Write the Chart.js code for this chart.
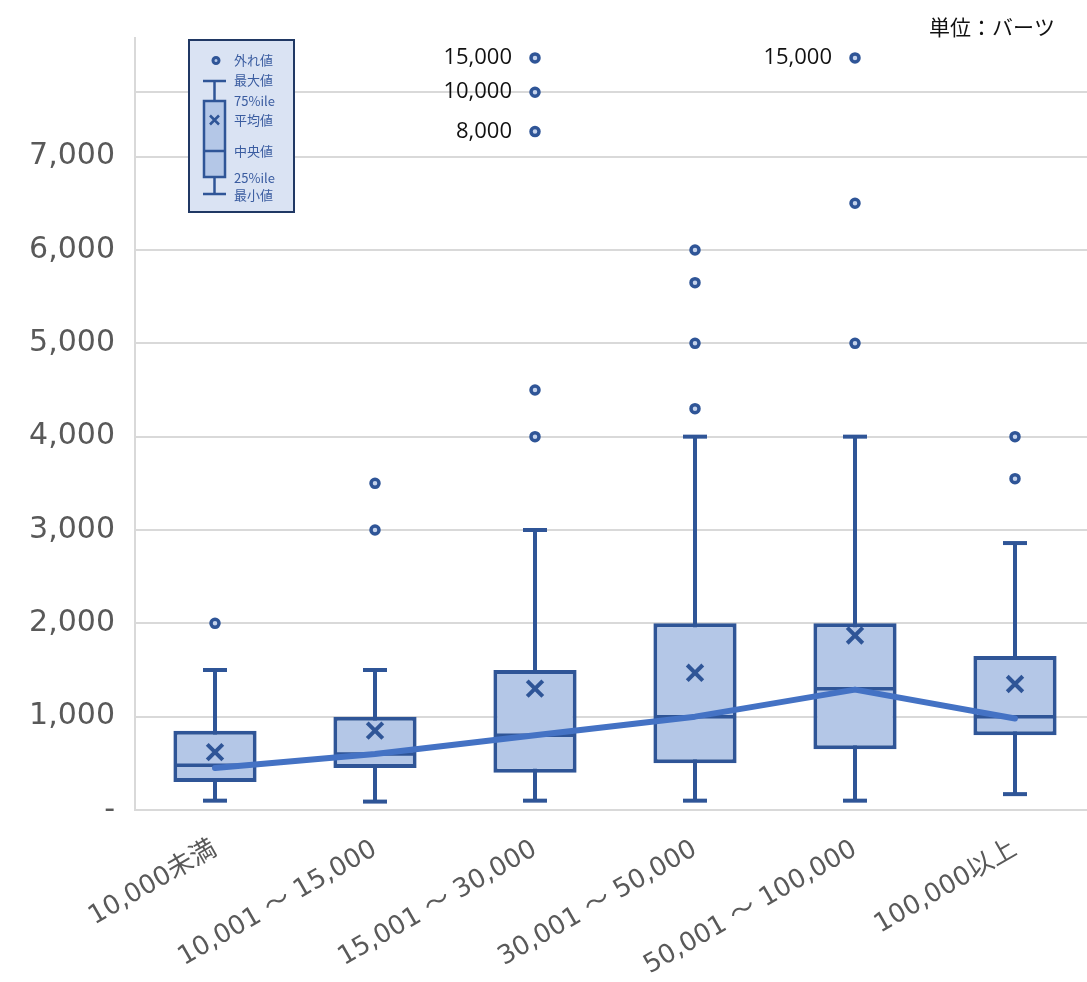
<!DOCTYPE html>
<html lang="ja">
<head>
<meta charset="utf-8">
<title>価格帯別の分布</title>
<script src="https://cdn.jsdelivr.net/npm/chart.js@4.4.1/dist/chart.umd.min.js"></script>
<style>
  html, body { margin: 0; padding: 0; background: #ffffff; overflow: hidden; }
  #wrap { position: relative; width: 1095px; height: 982px; }
</style>
</head>
<body>
<div id="wrap"><canvas id="chart"></canvas></div>
<script>
// Price bands (categories on the x axis)
const categories = ['10,000未満', '10,001 ～ 15,000', '15,001 ～ 30,000', '30,001 ～ 50,000', '50,001 ～ 100,000', '100,000以上'];

// Five-number summary and mean per band
const minValues    = [100,  90,  100,  100,  100,  170];
const q1Values     = [300,  450, 400,  500,  650,  800];
const medianValues = [480,  600, 800,  1000, 1300, 1000];
const q3Values     = [850,  1000, 1500, 2000, 2000, 1650];
const maxValues    = [1500, 1500, 3000, 4000, 4000, 2860];
const meanValues   = [620,  850, 1300, 1470, 1870, 1350];

// Outliers per band
const outlierValues = [
  [2000],
  [3000, 3500],
  [4000, 4500, 8000, 10000, 15000],
  [4300, 5000, 5650, 6000],
  [5000, 6500, 15000],
  [3550, 4000]
];

// Trend line across the bands
const trendValues = [450, 600, 800, 1000, 1290, 980];

// Y axis tick values (the top one marks the compressed region)
const yTickValues = [0, 1000, 2000, 3000, 4000, 5000, 6000, 7000, 10000];

// Outliers at or above this value carry a value label
const labelThreshold = 8000;

// Broken y axis: linear up to 7,000, compressed above it
const axisBreakReal  = [7000, 8000, 10000, 15000];
const axisBreakShown = [7000, 7268, 7690, 8058];

function compressValue(v) {
  if (v <= axisBreakReal[0]) return v;
  for (let i = 1; i < axisBreakReal.length; i++) {
    if (v <= axisBreakReal[i]) {
      const t = (v - axisBreakReal[i - 1]) / (axisBreakReal[i] - axisBreakReal[i - 1]);
      return axisBreakShown[i - 1] + t * (axisBreakShown[i] - axisBreakShown[i - 1]);
    }
  }
  const n = axisBreakReal.length - 1;
  const slope = (axisBreakShown[n] - axisBreakShown[n - 1]) / (axisBreakReal[n] - axisBreakReal[n - 1]);
  return axisBreakShown[n] + (v - axisBreakReal[n]) * slope;
}
function expandValue(d) {
  if (d <= axisBreakShown[0]) return d;
  for (let i = 1; i < axisBreakShown.length; i++) {
    if (d <= axisBreakShown[i]) {
      const t = (d - axisBreakShown[i - 1]) / (axisBreakShown[i] - axisBreakShown[i - 1]);
      return axisBreakReal[i - 1] + t * (axisBreakReal[i] - axisBreakReal[i - 1]);
    }
  }
  const n = axisBreakShown.length - 1;
  const slope = (axisBreakReal[n] - axisBreakReal[n - 1]) / (axisBreakShown[n] - axisBreakShown[n - 1]);
  return axisBreakReal[n] + (d - axisBreakShown[n]) * slope;
}

class BrokenLinearScale extends Chart.LinearScale {
  getPixelForValue(value) {
    if (value === null || value === undefined) return NaN;
    return super.getPixelForValue(compressValue(value));
  }
  getValueForPixel(pixel) {
    return expandValue(super.getValueForPixel(pixel));
  }
}
BrokenLinearScale.id = 'brokenLinear';
BrokenLinearScale.defaults = Chart.LinearScale.defaults;
Chart.register(BrokenLinearScale);

const DARK = '#2F5597';
const BOX_FILL = '#B4C7E7';
const TREND = '#4472C4';

const boxData = categories.map((c, i) => [q1Values[i], q3Values[i]]);
const whiskerData = categories.map((c, i) => [minValues[i], maxValues[i]]);
const capData = categories.flatMap((c, i) => [{ x: c, y: minValues[i] }, { x: c, y: maxValues[i] }]);
const outlierData = categories.flatMap((c, i) => outlierValues[i].map(v => ({ x: c, y: v })));

// Value labels next to the far outliers
const outlierLabelPlugin = {
  id: 'outlierLabels',
  afterDatasetsDraw(chart) {
    const idx = chart.data.datasets.findIndex(d => d.label === '外れ値');
    const meta = chart.getDatasetMeta(idx);
    const ctx = chart.ctx;
    ctx.save();
    ctx.font = '22px "Open Sans", "Noto Sans", sans-serif';
    ctx.fillStyle = '#111111';
    ctx.textAlign = 'right';
    ctx.textBaseline = 'middle';
    meta.data.forEach((pt, k) => {
      const v = chart.data.datasets[idx].data[k].y;
      if (v >= labelThreshold) {
        ctx.fillText(v.toLocaleString('en-US'), pt.x - 23, pt.y);
      }
    });
    ctx.restore();
  }
};

// Unit note and the key explaining the box symbols
const notesPlugin = {
  id: 'notes',
  afterDraw(chart) {
    const ctx = chart.ctx;
    ctx.save();
    // unit
    ctx.font = '21px "Noto Sans CJK JP", sans-serif';
    ctx.fillStyle = '#111111';
    ctx.textAlign = 'right';
    ctx.textBaseline = 'middle';
    ctx.fillText('単位：バーツ', 1055, 27);

    // key box
    const kx = 189, ky = 40, kw = 105, kh = 172;
    ctx.fillStyle = '#DAE3F3';
    ctx.fillRect(kx, ky, kw, kh);
    ctx.strokeStyle = '#203864';
    ctx.lineWidth = 2;
    ctx.strokeRect(kx, ky, kw, kh);

    const cx = 214.5;
    ctx.strokeStyle = DARK;
    ctx.lineWidth = 2.5;
    // whisker
    ctx.beginPath();
    ctx.moveTo(cx, 81); ctx.lineTo(cx, 194);
    ctx.stroke();
    // box
    ctx.fillStyle = BOX_FILL;
    ctx.fillRect(204, 101, 21, 76);
    ctx.strokeRect(204, 101, 21, 76);
    // caps
    ctx.beginPath();
    ctx.moveTo(203, 81); ctx.lineTo(226, 81);
    ctx.moveTo(203, 194); ctx.lineTo(226, 194);
    // median
    ctx.moveTo(204, 151); ctx.lineTo(225, 151);
    // mean cross
    ctx.moveTo(cx - 4.5, 115.5); ctx.lineTo(cx + 4.5, 124.5);
    ctx.moveTo(cx + 4.5, 115.5); ctx.lineTo(cx - 4.5, 124.5);
    ctx.stroke();
    // outlier symbol
    ctx.beginPath();
    ctx.arc(216, 60.5, 3, 0, Math.PI * 2);
    ctx.fillStyle = BOX_FILL;
    ctx.fill();
    ctx.lineWidth = 3;
    ctx.stroke();

    ctx.fillStyle = '#3A5CA0';
    ctx.font = '13px "Noto Sans CJK JP", sans-serif';
    ctx.textAlign = 'left';
    ctx.textBaseline = 'middle';
    const keyRows = [['外れ値', 60.5], ['最大値', 80.5], ['75%ile', 101.5], ['平均値', 120], ['中央値', 151.5], ['25%ile', 178], ['最小値', 195.5]];
    keyRows.forEach(([t, y]) => ctx.fillText(t, 234, y));
    ctx.restore();
  }
};

new Chart(document.getElementById('chart'), {
  type: 'bar',
  data: {
    labels: categories,
    datasets: [
      {
        label: '外れ値',
        type: 'line',
        data: outlierData,
        showLine: false,
        pointStyle: 'circle',
        pointRadius: 4,
        pointBorderWidth: 3.5,
        pointBackgroundColor: '#C5D3EC',
        pointBorderColor: DARK,
        order: 0
      },
      {
        label: '平均値',
        type: 'line',
        data: meanValues,
        showLine: false,
        pointStyle: 'crossRot',
        pointRadius: 11,
        pointBorderWidth: 4,
        pointBorderColor: DARK,
        order: 1
      },
      {
        label: '推移',
        type: 'line',
        data: trendValues,
        borderColor: TREND,
        borderWidth: 6,
        borderCapStyle: 'round',
        borderJoinStyle: 'round',
        pointRadius: 0,
        tension: 0,
        order: 2
      },
      {
        label: '最大値・最小値',
        type: 'line',
        data: capData,
        showLine: false,
        pointStyle: 'line',
        pointRadius: 12,
        pointBorderWidth: 4,
        pointBorderColor: DARK,
        order: 3
      },
      {
        label: '中央値',
        type: 'line',
        data: medianValues,
        showLine: false,
        pointStyle: 'line',
        pointRadius: 40,
        pointBorderWidth: 3.5,
        pointBorderColor: DARK,
        order: 4
      },
      {
        label: '25%ile～75%ile',
        data: boxData,
        backgroundColor: BOX_FILL,
        borderColor: DARK,
        borderWidth: 4,
        borderSkipped: false,
        inflateAmount: 0,
        barPercentage: 0.52,
        categoryPercentage: 1,
        grouped: false,
        order: 5
      },
      {
        label: 'ひげ',
        data: whiskerData,
        backgroundColor: DARK,
        borderWidth: 0,
        inflateAmount: 0,
        barPercentage: 0.025,
        categoryPercentage: 1,
        grouped: false,
        order: 6
      }
    ]
  },
  options: {
    responsive: true,
    maintainAspectRatio: false,
    animation: false,
    events: [],
    layout: { autoPadding: false, padding: { top: 35, left: 0, right: 0, bottom: 0 } },
    plugins: {
      legend: { display: false },
      tooltip: { enabled: false }
    },
    scales: {
      x: {
        type: 'category',
        offset: true,
        grid: { display: false, drawTicks: false },
        border: { display: false },
        ticks: {
          minRotation: 30,
          maxRotation: 30,
          padding: 24,
          color: '#595959',
          font: { family: '"DejaVu Sans", "Noto Sans CJK JP", sans-serif', size: 26 }
        },
        afterFit(scale) { scale.height = 172; }
      },
      y: {
        type: 'brokenLinear',
        min: 0,
        max: 8271,
        afterBuildTicks(scale) { scale.ticks = yTickValues.map(v => ({ value: v })); },
        grid: { color: '#D9D9D9', lineWidth: 2, drawTicks: false },
        border: { display: true, color: '#D9D9D9', width: 2 },
        ticks: {
          padding: 20,
          color: '#595959',
          font: { family: '"DejaVu Sans", sans-serif', size: 30 },
          callback(v) {
            if (v === 0) return '-';
            if (v > axisBreakReal[0]) return '';
            return v.toLocaleString('en-US');
          }
        },
        afterFit(scale) { scale.width = 135; }
      }
    }
  },
  plugins: [outlierLabelPlugin, notesPlugin]
});
</script>
</body>
</html>
